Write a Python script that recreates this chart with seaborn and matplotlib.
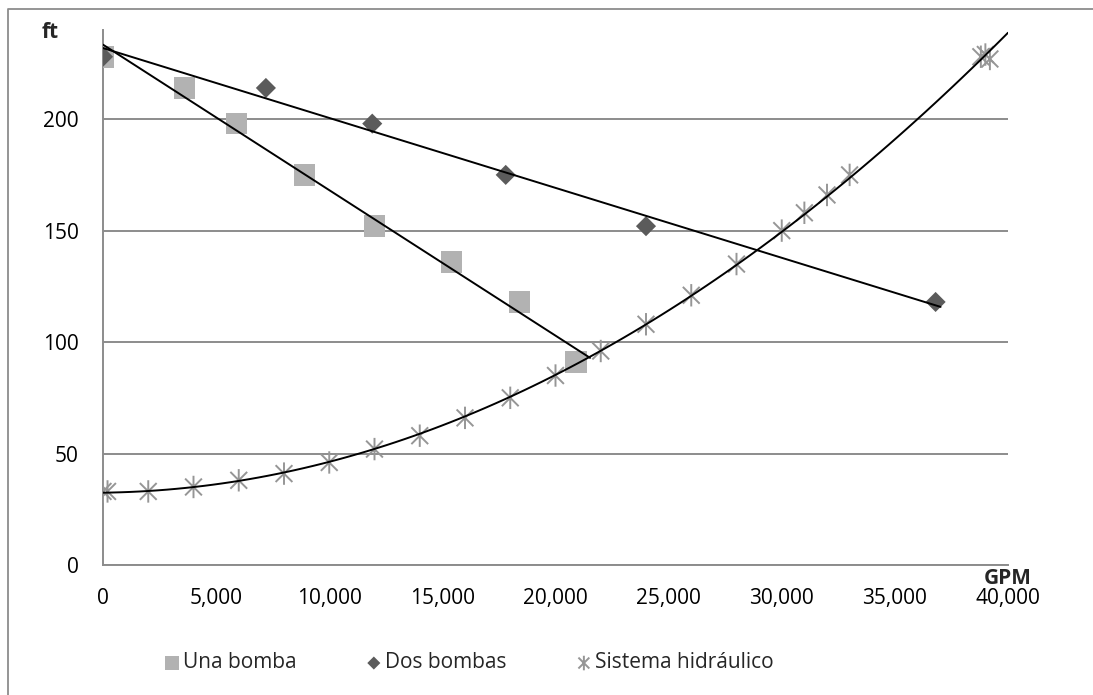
import seaborn as sns
import matplotlib.pyplot as plt
import numpy as np
from matplotlib.path import Path
from matplotlib.lines import Line2D

# data
una_x = [0, 3600, 5900, 8900, 12000, 15400, 18400, 20900]
una_y = [228, 214, 198, 175, 152, 136, 118, 91]

dos_x = [0, 7200, 11900, 17800, 24000, 36800]
dos_y = [228, 214, 198, 175, 152, 118]

sis_x = [0, 200, 2000, 4000, 6000, 8000, 10000, 12000, 14000, 16000, 18000,
         20000, 22000, 24000, 26000, 28000, 30000, 31000, 32000, 33000,
         38800, 39000, 39200]
sis_y = [33, 33, 33, 35, 38, 41, 46, 52, 58, 66, 75,
         85, 96, 108, 121, 135, 150, 158, 166, 175,
         228, 229, 227]

x_ticks = [0, 5000, 10000, 15000, 20000, 25000, 30000, 35000, 40000]
y_ticks = [0, 50, 100, 150, 200]

sns.set_style('white')
plt.rcParams['font.family'] = ['Open Sans', 'DejaVu Sans']
plt.rcParams['font.size'] = 15

GRID = '#8c8c8c'

# excel-like asterisk: vertical bar plus an X
star = Path([(0, -1), (0, 1), (-0.75, -0.75), (0.75, 0.75), (-0.75, 0.75), (0.75, -0.75)],
            [Path.MOVETO, Path.LINETO, Path.MOVETO, Path.LINETO, Path.MOVETO, Path.LINETO])

fig = plt.figure(figsize=(10.93, 6.95), dpi=100)
ax = fig.add_axes([103 / 1093, 1 - 565 / 695, 905 / 1093, 535 / 695])

ax.set_xlim(0, 40000)
ax.set_ylim(0, 240)

sns.scatterplot(x=una_x, y=una_y, ax=ax, marker='s', s=240, color='#b2b2b2',
                edgecolor='none', label='Una bomba', zorder=3)
sns.scatterplot(x=dos_x, y=dos_y, ax=ax, marker='D', s=105, color='#5b5b5b',
                edgecolor='none', label='Dos bombas', zorder=3)
sns.scatterplot(x=sis_x, y=sis_y, ax=ax, marker=star, s=260, facecolor='none',
                edgecolor='#969696', linewidth=1.4, label='Sistema hidráulico', zorder=3)

# trend lines (excel style: linear fits for the pumps, quadratic for the system)
una_fit = np.polyfit(una_x, una_y, 1)
dos_fit = np.polyfit(dos_x, dos_y, 1)
una_line_x = np.linspace(0, max(una_x) * 1.03, 50)
dos_line_x = np.linspace(0, max(dos_x) * 1.006, 50)
sns.lineplot(x=una_line_x, y=np.polyval(una_fit, una_line_x), ax=ax, color='black', lw=1.4, zorder=4)
sns.lineplot(x=dos_line_x, y=np.polyval(dos_fit, dos_line_x), ax=ax, color='black', lw=1.4, zorder=4)
sns.regplot(x=sis_x, y=sis_y, ax=ax, scatter=False, ci=None, order=2, truncate=False,
            line_kws=dict(color='black', lw=1.4, zorder=4))

ax.set_xlim(0, 40000)
ax.set_ylim(0, 240)
ax.set_xticks(x_ticks)
ax.set_xticklabels([f'{v:,}' for v in x_ticks])
ax.set_yticks(y_ticks)
ax.set_yticklabels([str(v) for v in y_ticks])
ax.set_xlabel('')
ax.set_ylabel('')

ax.yaxis.grid(True, color=GRID, lw=1.4)
ax.set_axisbelow(True)
for side in ['top', 'right']:
    ax.spines[side].set_visible(False)
for side in ['left', 'bottom']:
    ax.spines[side].set_color(GRID)
    ax.spines[side].set_linewidth(1.4)
ax.tick_params(axis='both', direction='out', length=4.5, width=1.2, color=GRID,
               labelsize=15, labelcolor='black')
ax.tick_params(axis='y', pad=13)
ax.tick_params(axis='x', pad=12)

fig.text(50 / 1093, 1 - 32 / 695, 'ft', ha='center', va='center', fontsize=15, fontweight='bold')
fig.text(1008 / 1093, 1 - 578 / 695, 'GPM', ha='center', va='center', fontsize=15, fontweight='bold')

handles, labels = ax.get_legend_handles_labels()
handles, labels = handles[:3], labels[:3]
ax.get_legend().remove()
fig.legend(handles, labels, loc='center left', bbox_to_anchor=(155 / 1093, 1 - 663 / 695),
           ncol=3, frameon=False, fontsize=15, handlelength=0.8, handletextpad=0.15,
           columnspacing=3.3, borderaxespad=0, markerscale=0.65)

# outer chart frame (cut off on right and bottom)
fig.add_artist(Line2D([8 / 1093, 8 / 1093, 1.0], [0, 1 - 9 / 695, 1 - 9 / 695],
                      transform=fig.transFigure, color=GRID, lw=1.3))

fig.savefig('out.png', dpi=100)
